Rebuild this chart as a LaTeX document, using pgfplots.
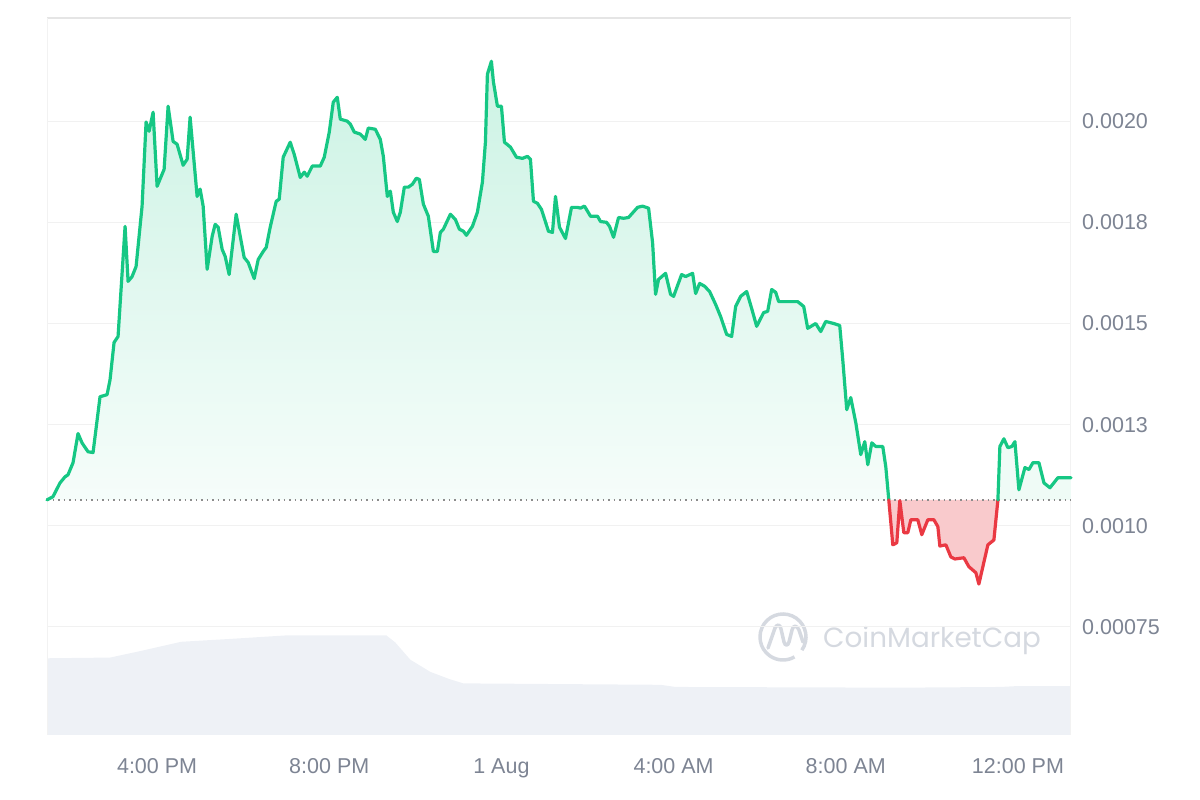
\documentclass[border=0pt]{standalone}
\usepackage{pgfplots}
\pgfplotsset{compat=1.18}
\usepackage{fontspec}
\setmainfont{Liberation Sans}
\newfontfamily\wmfont{Poppins}
\definecolor{cmcgreen}{HTML}{16C784}
\definecolor{cmcred}{HTML}{EA3943}
\definecolor{labelgray}{HTML}{7D8493}
\definecolor{gridgray}{HTML}{F1F1F1}
\definecolor{volgray}{HTML}{EEF1F6}
\definecolor{wmgray}{HTML}{D5D9E0}

\pgfplotstableread{
x y
1.442 0.001064
1.581 0.001072
1.744 0.001106
1.860 0.001121
1.930 0.001126
2.047 0.001156
2.163 0.001228
2.256 0.001205
2.395 0.001183
2.512 0.001181
2.674 0.001319
2.837 0.001324
2.907 0.001361
3.000 0.001453
3.093 0.001468
3.256 0.001740
3.326 0.001604
3.419 0.001616
3.512 0.001641
3.651 0.001790
3.744 0.001998
3.814 0.001975
3.907 0.002022
4.000 0.001839
4.163 0.001881
4.256 0.002037
4.372 0.001950
4.465 0.001943
4.605 0.001891
4.698 0.001906
4.767 0.002010
4.930 0.001814
5.000 0.001832
5.070 0.001790
5.163 0.001634
5.279 0.001715
5.349 0.001745
5.419 0.001738
5.512 0.001683
5.581 0.001666
5.674 0.001621
5.837 0.001770
6.023 0.001663
6.116 0.001651
6.256 0.001611
6.349 0.001658
6.465 0.001678
6.535 0.001688
6.628 0.001738
6.767 0.001802
6.837 0.001807
6.930 0.001911
7.093 0.001948
7.186 0.001918
7.326 0.001861
7.419 0.001874
7.488 0.001864
7.605 0.001889
7.791 0.001889
7.884 0.001911
8.000 0.001973
8.093 0.002047
8.186 0.002059
8.256 0.002005
8.419 0.002000
8.488 0.001993
8.581 0.001973
8.721 0.001968
8.837 0.001955
8.907 0.001983
9.070 0.001980
9.186 0.001955
9.256 0.001913
9.349 0.001814
9.419 0.001827
9.488 0.001775
9.581 0.001752
9.651 0.001775
9.744 0.001837
9.837 0.001837
9.930 0.001844
10.023 0.001859
10.093 0.001856
10.186 0.001795
10.302 0.001765
10.419 0.001678
10.512 0.001678
10.581 0.001725
10.651 0.001733
10.814 0.001770
10.930 0.001757
11.023 0.001733
11.116 0.001728
11.186 0.001718
11.326 0.001740
11.442 0.001775
11.558 0.001849
11.628 0.001948
11.674 0.002116
11.767 0.002148
11.814 0.002097
11.907 0.002037
12.000 0.002037
12.070 0.001948
12.209 0.001936
12.349 0.001911
12.488 0.001908
12.605 0.001913
12.674 0.001906
12.744 0.001802
12.837 0.001797
12.930 0.001782
13.093 0.001728
13.186 0.001725
13.256 0.001814
13.349 0.001738
13.488 0.001710
13.628 0.001787
13.767 0.001787
13.837 0.001785
13.930 0.001790
14.070 0.001765
14.233 0.001765
14.302 0.001752
14.442 0.001750
14.512 0.001740
14.605 0.001713
14.721 0.001762
14.837 0.001760
14.953 0.001762
15.163 0.001787
15.279 0.001790
15.419 0.001785
15.512 0.001700
15.581 0.001572
15.651 0.001609
15.814 0.001624
15.930 0.001572
16.000 0.001567
16.186 0.001621
16.279 0.001616
16.442 0.001624
16.512 0.001574
16.605 0.001599
16.721 0.001592
16.837 0.001579
16.977 0.001547
17.093 0.001517
17.233 0.001473
17.349 0.001468
17.442 0.001542
17.558 0.001567
17.698 0.001579
17.814 0.001537
17.930 0.001493
18.093 0.001527
18.186 0.001530
18.279 0.001584
18.372 0.001577
18.442 0.001554
18.884 0.001554
19.023 0.001542
19.116 0.001488
19.302 0.001500
19.419 0.001480
19.535 0.001505
19.721 0.001500
19.860 0.001495
19.930 0.001411
20.023 0.001287
20.116 0.001317
20.233 0.001255
20.349 0.001176
20.442 0.001208
20.512 0.001151
20.605 0.001205
20.698 0.001196
20.860 0.001196
20.930 0.001146
21.000 0.001064
}\Gone

\pgfplotstableread{
x y
21.000 0.001064
21.093 0.000953
21.186 0.000958
21.256 0.001062
21.349 0.000983
21.442 0.000983
21.512 0.001015
21.674 0.001015
21.767 0.000978
21.907 0.001015
22.047 0.001015
22.140 0.000998
22.186 0.000950
22.326 0.000953
22.442 0.000923
22.535 0.000918
22.744 0.000921
22.860 0.000899
23.023 0.000884
23.093 0.000856
23.302 0.000953
23.442 0.000965
23.535 0.001064
}\Rone

\pgfplotstableread{
x y
23.535 0.001064
23.581 0.001196
23.674 0.001215
23.767 0.001193
23.860 0.001196
23.930 0.001208
24.023 0.001089
24.163 0.001144
24.256 0.001139
24.349 0.001156
24.488 0.001156
24.605 0.001106
24.744 0.001094
24.930 0.001119
25.163 0.001119
25.233 0.001119
}\Gtwo

% same as above, closed back to the opening price for the area
\pgfplotstableread{
x y
23.535 0.001064
23.581 0.001196
23.674 0.001215
23.767 0.001193
23.860 0.001196
23.930 0.001208
24.023 0.001089
24.163 0.001144
24.256 0.001139
24.349 0.001156
24.488 0.001156
24.605 0.001106
24.744 0.001094
24.930 0.001119
25.163 0.001119
25.233 0.001119
25.233 0.001064
}\Gtwofill

\pgfplotstableread{
x v
1.442 10.7
2.907 10.8
3.605 11.7
4.558 13.0
5.698 13.4
7.023 13.9
9.326 13.9
9.535 12.9
9.884 10.5
10.349 8.8
10.791 7.8
11.116 7.2
13.372 7.1
15.698 7.0
16.047 6.7
21.279 6.6
23.605 6.7
23.907 6.8
25.233 6.8
}\Vol

\begin{document}
\begin{tikzpicture}
\useasboundingbox (0bp,0bp) rectangle (1200bp,800bp);
% volume layer
\begin{axis}[
  at={(47bp,65bp)}, anchor=south west,
  width=1024bp, height=717bp, scale only axis,
  xmin=1.442, xmax=25.233, ymin=0, ymax=100,
  hide axis, clip=true,
]
\addplot[draw=none, fill=volgray] table[x=x, y=v] {\Vol} \closedcycle;
\end{axis}
% watermark
\draw[wmgray, line width=3.5bp] (783bp,163bp) ++(-35:23bp) arc[start angle=-35, end angle=300, radius=23bp];
\draw[wmgray, line width=3.5bp, line join=round, line cap=round]
  (768bp,152bp) -- (775bp,172bp) .. controls (777bp,176bp) and (780bp,176bp) .. (781bp,171bp) -- (784bp,158bp)
  .. controls (785bp,154bp) and (788bp,154bp) .. (789bp,158bp) -- (792bp,170bp) .. controls (793bp,175bp) and (797bp,175bp) .. (799bp,170bp) -- (803bp,158bp);
\node[anchor=base west, inner sep=0pt, text=wmgray] at (823bp,152bp) {\wmfont\fontsize{27.8bp}{30bp}\selectfont CoinMarketCap};
% price layer
\begin{axis}[
  at={(47bp,65bp)}, anchor=south west,
  width=1024bp, height=717bp, scale only axis,
  xmin=1.442, xmax=25.233, ymin=0.000483, ymax=0.002255,
  scaled y ticks=false, scaled x ticks=false,
  axis line style={draw=none},
  major tick length=0pt,
  ymajorgrids, grid style={gridgray, line width=1bp},
  ytick={0.00075,0.001,0.00125,0.0015,0.00175,0.002},
  yticklabels={0.00075,0.0010,0.0013,0.0015,0.0018,0.0020},
  xtick={4,8,12,16,20,24},
  xticklabels={4:00 PM,8:00 PM,1 Aug,4:00 AM,8:00 AM,12:00 PM},
  yticklabel pos=right,
  /pgf/number format/assume math mode=true,
  yticklabel style={anchor=base west, inner sep=0pt, xshift=11bp, yshift=-7.5bp,
    text=labelgray, font=\fontsize{21.5bp}{24bp}\selectfont},
  xticklabel style={anchor=base, inner sep=0pt, yshift=-39bp,
    text=labelgray, font=\fontsize{21.5bp}{24bp}\selectfont},
  clip=false,
]
\draw[color=black!10, line width=2bp] (rel axis cs:0,1) -- (rel axis cs:1,1);
\draw[color=black!5, line width=1bp] (rel axis cs:0,0) -- (rel axis cs:0,1);
\draw[color=black!5, line width=1bp] (rel axis cs:1,0) -- (rel axis cs:1,1);
% fills
\addplot[draw=none, top color=cmcgreen!22, bottom color=cmcgreen!4] table[x=x, y=y] {\Gone};
\addplot[draw=none, fill=cmcred!27] table[x=x, y=y] {\Rone};
\addplot[draw=none, fill=cmcgreen!7] table[x=x, y=y] {\Gtwofill};
% baseline
\addplot[black!45, line width=1.5bp, dash pattern=on 1.5bp off 4bp] coordinates {(1.442,0.001064) (25.233,0.001064)};
% lines
\addplot[cmcgreen, line width=3.2bp, line join=round, line cap=round] table[x=x, y=y] {\Gone};
\addplot[cmcred, line width=3.2bp, line join=round, line cap=round] table[x=x, y=y] {\Rone};
\addplot[cmcgreen, line width=3.2bp, line join=round, line cap=round] table[x=x, y=y] {\Gtwo};
\end{axis}
\end{tikzpicture}
\end{document}
